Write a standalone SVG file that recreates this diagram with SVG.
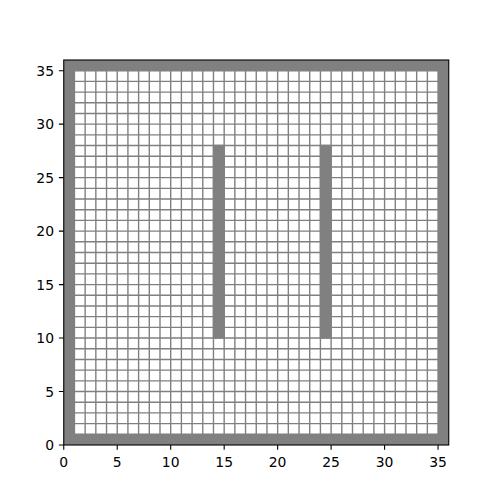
<svg xmlns="http://www.w3.org/2000/svg" width="500" height="500" viewBox="0 0 500 500">
<style>
.grid{fill:none;stroke:#808080;stroke-width:1.39}
.solid{fill:#808080;stroke:#808080;stroke-width:1.39}
.tick{stroke:#000;stroke-width:1.1}
.lbl{font-family:"DejaVu Sans",sans-serif;font-size:13.9px;fill:#000}
</style>
<rect width="500" height="500" fill="#fff"/>
<g transform="translate(63.75,445) scale(10.69444,-10.69444)">
<rect x="1" y="1" width="34" height="34" fill="#fff"/>
<path class="grid" vector-effect="non-scaling-stroke" d="M1 1V35M2 1V35M3 1V35M4 1V35M5 1V35M6 1V35M7 1V35M8 1V35M9 1V35M10 1V35M11 1V35M12 1V35M13 1V35M14 1V35M15 1V35M16 1V35M17 1V35M18 1V35M19 1V35M20 1V35M21 1V35M22 1V35M23 1V35M24 1V35M25 1V35M26 1V35M27 1V35M28 1V35M29 1V35M30 1V35M31 1V35M32 1V35M33 1V35M34 1V35M35 1V35M1 1H35M1 2H35M1 3H35M1 4H35M1 5H35M1 6H35M1 7H35M1 8H35M1 9H35M1 10H35M1 11H35M1 12H35M1 13H35M1 14H35M1 15H35M1 16H35M1 17H35M1 18H35M1 19H35M1 20H35M1 21H35M1 22H35M1 23H35M1 24H35M1 25H35M1 26H35M1 27H35M1 28H35M1 29H35M1 30H35M1 31H35M1 32H35M1 33H35M1 34H35M1 35H35"/>
<path fill="#808080" fill-rule="evenodd" d="M0 0H36V36H0ZM1 1V35H35V1Z"/>
<rect class="solid" vector-effect="non-scaling-stroke" x="14" y="10" width="1" height="18"/>
<rect class="solid" vector-effect="non-scaling-stroke" x="24" y="10" width="1" height="18"/>
</g>
<rect x="63.75" y="60" width="385" height="385" fill="none" stroke="#000" stroke-width="1.1"/>
<g class="tick">
<path d="M63.75 445v4.86M117.22 445v4.86M170.69 445v4.86M224.17 445v4.86M277.64 445v4.86M331.11 445v4.86M384.58 445v4.86M438.06 445v4.86"/>
<path d="M63.75 445h-4.86M63.75 391.53h-4.86M63.75 338.06h-4.86M63.75 284.58h-4.86M63.75 231.11h-4.86M63.75 177.64h-4.86M63.75 124.17h-4.86M63.75 70.69h-4.86"/>
</g>
<g class="lbl" text-anchor="middle">
<text x="63.75" y="467">0</text>
<text x="117.22" y="467">5</text>
<text x="170.69" y="467">10</text>
<text x="224.17" y="467">15</text>
<text x="277.64" y="467">20</text>
<text x="331.11" y="467">25</text>
<text x="384.58" y="467">30</text>
<text x="438.06" y="467">35</text>
</g>
<g class="lbl" text-anchor="end">
<text x="54" y="450.2">0</text>
<text x="54" y="396.7">5</text>
<text x="54" y="343.3">10</text>
<text x="54" y="289.8">15</text>
<text x="54" y="236.3">20</text>
<text x="54" y="182.8">25</text>
<text x="54" y="129.4">30</text>
<text x="54" y="75.9">35</text>
</g>
</svg>
